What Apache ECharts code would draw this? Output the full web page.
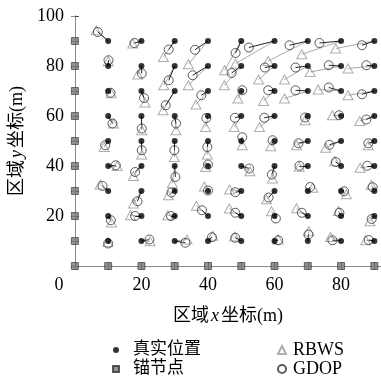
<!DOCTYPE html>
<html>
<head>
<meta charset="utf-8">
<script src="https://cdn.jsdelivr.net/npm/echarts@6/dist/echarts.min.js"></script>
<style>
  html, body { margin: 0; padding: 0; background: #fff; }
  #chart { width: 381px; height: 376px; }
</style>
</head>
<body>
<div id="chart"></div>
<script>
// grid of true positions (m)
const trueX = [10, 20, 30, 40, 50, 60, 70, 80, 90];
const trueY = [90, 80, 70, 60, 50, 40, 30, 20, 10];

// anchor nodes along the left and bottom edges
const anchors = [
  [0, 0], [0, 10], [0, 20], [0, 30], [0, 40], [0, 50], [0, 60], [0, 70], [0, 80], [0, 90],
  [10, 0], [20, 0], [30, 0], [40, 0], [50, 0], [60, 0], [70, 0], [80, 0], [90, 0]
];

// GDOP estimates, one row per trueY, one entry per trueX
const gdop = [
  [[6.9, 93.6], [17.9, 89.2], [28.2, 86.6], [36.1, 86.5], [48.3, 85.2], [52.3, 87.4], [64.5, 88.3], [73.5, 89.2], [86.3, 88.3]],
  [[10.1, 82.3], [20.1, 77.0], [28.2, 74.3], [35.4, 76.3], [47.1, 77.2], [57.1, 79.4], [66.3, 79.4], [76.3, 80.3], [87.6, 80.3]],
  [[10.7, 69.3], [20.8, 67.2], [27.3, 64.3], [38.0, 68.3], [50.3, 70.3], [58.1, 70.3], [66.3, 70.3], [76.3, 71.4], [86.3, 68.7]],
  [[11.3, 57.0], [20.1, 55.0], [30.4, 57.0], [39.5, 59.2], [48.1, 59.3], [56.9, 59.3], [69.2, 59.4], [79.4, 60.3], [87.6, 58.6]],
  [[9.1, 48.3], [20.1, 46.3], [29.9, 46.3], [39.8, 47.6], [50.3, 51.5], [59.4, 50.3], [67.2, 49.1], [76.5, 48.5], [88.2, 49.1]],
  [[12.3, 40.3], [18.1, 37.6], [30.2, 35.6], [40.0, 40.6], [52.4, 39.0], [59.2, 36.6], [67.5, 40.1], [78.4, 41.6], [87.9, 40.1]],
  [[8.3, 32.0], [18.8, 25.9], [29.0, 29.4], [40.0, 30.2], [48.2, 29.5], [58.2, 27.4], [70.7, 31.6], [80.9, 29.9], [89.5, 31.5]],
  [[10.8, 18.3], [18.1, 20.0], [28.9, 20.0], [38.2, 22.3], [48.2, 21.3], [60.4, 19.0], [68.2, 21.3], [79.5, 21.3], [89.2, 18.8]],
  [[10.0, 9.0], [22.4, 10.6], [33.2, 9.3], [41.2, 11.5], [48.2, 11.3], [61.1, 10.3], [70.2, 12.6], [77.4, 10.3], [88.3, 10.4]]
];

// RBWS estimates, same layout
const rbws = [
  [[6.4, 94.3], [17.4, 89.0], [26.6, 83.6], [34.1, 80.7], [45.0, 78.3], [48.3, 81.0], [58.1, 82.0], [68.2, 84.7], [78.4, 87.0]],
  [[10.0, 81.9], [18.9, 76.6], [26.7, 72.3], [34.1, 72.3], [44.9, 72.3], [55.2, 74.6], [63.0, 74.6], [70.7, 77.6], [82.1, 79.0]],
  [[10.9, 69.1], [21.1, 65.4], [26.5, 62.3], [36.4, 64.6], [49.0, 67.0], [56.7, 66.0], [63.0, 67.0], [73.1, 70.6], [82.1, 68.3]],
  [[11.6, 57.0], [20.1, 54.3], [30.4, 54.3], [39.3, 55.6], [47.9, 55.6], [55.5, 55.6], [69.2, 58.3], [77.4, 60.3], [85.6, 58.0]],
  [[8.8, 47.6], [20.1, 44.6], [29.9, 43.6], [39.8, 44.6], [50.3, 48.3], [58.9, 47.9], [66.6, 48.3], [75.4, 47.3], [88.2, 48.3]],
  [[12.7, 40.0], [17.6, 36.0], [29.3, 33.1], [39.3, 39.6], [52.6, 37.9], [59.4, 35.0], [67.4, 39.7], [78.1, 41.9], [85.7, 39.3]],
  [[7.6, 32.6], [17.6, 25.0], [28.1, 28.3], [38.9, 31.8], [46.5, 30.6], [57.6, 26.7], [71.5, 31.3], [81.6, 28.7], [89.1, 32.5]],
  [[11.0, 17.4], [16.7, 20.3], [27.9, 20.3], [36.5, 24.1], [46.4, 23.0], [59.1, 21.9], [66.6, 23.1], [79.2, 22.0], [88.7, 17.9]],
  [[9.9, 9.6], [22.6, 9.9], [33.7, 10.6], [41.4, 12.1], [48.0, 11.8], [61.1, 10.6], [70.3, 13.9], [76.8, 11.6], [87.4, 10.3]]
];

const truePts = [];
const gdopPts = [];
const rbwsPts = [];
const gdopLinks = [];
const rbwsLinks = [];
trueY.forEach(function (y, r) {
  trueX.forEach(function (x, c) {
    truePts.push([x, y]);
    gdopPts.push(gdop[r][c]);
    rbwsPts.push(rbws[r][c]);
    gdopLinks.push({ coords: [[x, y], gdop[r][c]] });
    rbwsLinks.push({ coords: [[x, y], rbws[r][c]] });
  });
});

const FONT = "'Liberation Serif', 'Noto Sans CJK SC', serif";

const chart = echarts.init(document.getElementById('chart'));
const option = {
  animation: false,
  backgroundColor: '#fff',
  textStyle: { fontFamily: FONT },
  grid: { left: 74, top: 16, right: -6, bottom: 110 },
  xAxis: [
    {
      type: 'value', min: 0, max: 92, interval: 10, position: 'bottom',
      splitLine: { show: false },
      axisLine: { show: true, lineStyle: { color: '#444', width: 1 } },
      axisTick: { show: true, inside: true, length: 4, lineStyle: { color: '#444' } },
      axisLabel: {
        margin: 10, color: '#000', fontSize: 18, fontFamily: FONT,
        showMaxLabel: false,
        formatter: function (v) {
          if (v === 0) return '{z|0}';
          return v % 20 === 0 ? String(v) : '';
        },
        rich: { z: { fontSize: 18, fontFamily: FONT, color: '#000', padding: [0, 32, 0, 0] } }
      },
      name: '区域{i|x}坐标(m)',
      nameLocation: 'middle',
      nameGap: 41,
      nameTextStyle: {
        color: '#000', fontSize: 18, fontFamily: FONT,
        rich: { i: { fontStyle: 'italic', fontSize: 18, fontFamily: FONT, color: '#000', padding: [0, 2, 0, 2] } }
      }
    },
    {
      type: 'value', min: 0, max: 92, interval: 10, position: 'top',
      splitLine: { show: false },
      axisLine: { show: true, lineStyle: { color: '#888', width: 1 } },
      axisTick: { show: true, inside: true, length: 4, lineStyle: { color: '#666' } },
      axisLabel: { show: false }
    }
  ],
  yAxis: [
    {
      type: 'value', min: 0, max: 100, interval: 10, position: 'left',
      splitLine: { show: false },
      axisLine: { show: true, lineStyle: { color: '#444', width: 1 } },
      axisTick: { show: true, inside: true, length: 4, lineStyle: { color: '#444' } },
      axisLabel: {
        margin: 11, color: '#000', fontSize: 18, fontFamily: FONT,
        formatter: function (v) { return (v % 20 === 0 && v !== 0) ? String(v) : ''; }
      },
      name: '区域{i|y}坐标(m)',
      nameLocation: 'middle',
      nameGap: 40,
      nameTextStyle: {
        color: '#000', fontSize: 18, fontFamily: FONT,
        rich: { i: { fontStyle: 'italic', fontSize: 18, fontFamily: FONT, color: '#000', padding: [0, 2, 0, 2] } }
      }
    },
    {
      type: 'value', min: 0, max: 100, interval: 10, position: 'right',
      splitLine: { show: false },
      axisLine: { show: true, lineStyle: { color: '#888' } },
      axisTick: { show: true, inside: true, length: 4 },
      axisLabel: { show: false }
    }
  ],
  legend: [
    {
      orient: 'vertical', left: 112, top: 341, height: 40, padding: 0,
      itemWidth: 6, itemHeight: 6, itemGap: 1,
      data: [
        { name: '真实位置', icon: 'circle' },
        { name: '锚节点', icon: 'rect' }
      ],
      textStyle: { fontSize: 17, lineHeight: 18, fontFamily: FONT, color: '#000', padding: [0, 0, 0, 9] },
      selectedMode: false
    },
    {
      orient: 'vertical', left: 277, top: 341, height: 40, padding: 0,
      itemWidth: 8, itemHeight: 8, itemGap: 1,
      data: [
        { name: 'RBWS', icon: 'triangle' },
        { name: 'GDOP', icon: 'circle' }
      ],
      textStyle: { fontSize: 18, lineHeight: 18, fontFamily: FONT, color: '#000', padding: [0, 0, 0, 2] },
      selectedMode: false
    }
  ],
  series: [
    {
      name: 'rbwsLinks', type: 'lines', coordinateSystem: 'cartesian2d', silent: true,
      lineStyle: { color: '#aaa', width: 1, opacity: 1 },
      data: rbwsLinks, z: 1
    },
    {
      name: 'gdopLinks', type: 'lines', coordinateSystem: 'cartesian2d', silent: true,
      lineStyle: { color: '#222', width: 1, opacity: 1 },
      data: gdopLinks, z: 2
    },
    {
      name: 'RBWS', type: 'scatter', symbol: 'triangle', symbolSize: [10, 9],
      itemStyle: { color: 'rgba(0,0,0,0)', borderColor: '#999', borderWidth: 1 },
      data: rbwsPts, z: 3
    },
    {
      name: 'GDOP', type: 'scatter', symbol: 'circle', symbolSize: 9,
      itemStyle: { color: 'rgba(0,0,0,0)', borderColor: '#333', borderWidth: 1 },
      data: gdopPts, z: 4
    },
    {
      name: '真实位置', type: 'scatter', symbol: 'circle', symbolSize: 6,
      itemStyle: { color: '#000' },
      data: truePts, z: 5
    },
    {
      name: '锚节点', type: 'scatter', symbol: 'rect', symbolSize: 7,
      itemStyle: { color: '#777', borderColor: '#333', borderWidth: 0.8 },
      data: anchors, z: 6
    }
  ]
};
chart.setOption(option);
</script>
</body>
</html>
